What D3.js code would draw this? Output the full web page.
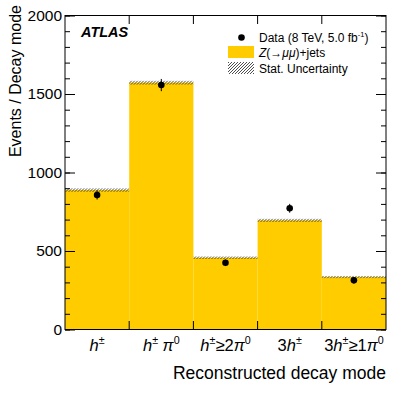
<!DOCTYPE html>
<html>
<head>
<meta charset="utf-8">
<style>
  body { margin: 0; background: white; }
  text { font-family: "Liberation Sans", Arial, sans-serif; }
</style>
</head>
<body>
<div id="chart"></div>
<script src="https://d3js.org/d3.v7.min.js"></script>
<script>
// decay modes (tick labels as [text, style] pieces: i = italic, s = superscript)
var modes = ["h", "hpi0", "h2pi0", "3h", "3hpi0"];
var modeLabels = [
  [["h","i"],["±","s"]],
  [["h","i"],["±","s"],[" "],["π","i"],["0","s"]],
  [["h","i"],["±","s"],["≥2"],["π","i"],["0","s"]],
  [["3"],["h","i"],["±","s"]],
  [["3"],["h","i"],["±","s"],["≥1"],["π","i"],["0","s"]]
];
var mcValues   = [888, 1572, 457, 695, 334];
var mcStatErr  = [11, 12, 8, 10, 7];
var dataValues = [857, 1557, 425, 772, 313];
var dataErr    = [29, 39, 21, 28, 18];
var yTicks = [0, 500, 1000, 1500, 2000];

var W = 407, H = 393;
var margin = {top: 15.5, right: 21, bottom: 63.5, left: 65},
    width = W - margin.left - margin.right,
    height = H - margin.top - margin.bottom;

var svg = d3.select("#chart").append("svg")
    .attr("width", W)
    .attr("height", H);

var defs = svg.append("defs");
defs.append("pattern")
    .attr("id", "hatch")
    .attr("patternUnits", "userSpaceOnUse")
    .attr("width", 3).attr("height", 3)
  .append("path")
    .attr("d", "M-1,1 l2,-2 M0,3 l3,-3 M2,4 l2,-2")
    .attr("stroke", "#222")
    .attr("stroke-width", 0.8);

var g = svg.append("g")
    .attr("transform", "translate(" + margin.left + "," + margin.top + ")");

var x = d3.scaleBand().domain(modes).range([0, width]).padding(0);
var y = d3.scaleLinear().domain([0, 2000]).range([height, 0]);

// MC bars
g.selectAll(".bar")
  .data(modes)
  .enter().append("rect")
    .attr("x", function(d) { return x(d); })
    .attr("width", x.bandwidth())
    .attr("y", function(d, i) { return y(mcValues[i]); })
    .attr("height", function(d, i) { return height - y(mcValues[i]); })
    .attr("fill", "#ffcc00");

// stat uncertainty band
g.selectAll(".band")
  .data(modes)
  .enter().append("rect")
    .attr("x", function(d) { return x(d); })
    .attr("width", x.bandwidth())
    .attr("y", function(d, i) { return y(mcValues[i] + mcStatErr[i]); })
    .attr("height", function(d, i) { return y(mcValues[i] - mcStatErr[i]) - y(mcValues[i] + mcStatErr[i]); })
    .attr("fill", "url(#hatch)");

// data points
var pts = g.selectAll(".pt")
  .data(modes)
  .enter().append("g");
pts.append("line")
    .attr("x1", function(d) { return x(d) + x.bandwidth() / 2; })
    .attr("x2", function(d) { return x(d) + x.bandwidth() / 2; })
    .attr("y1", function(d, i) { return y(dataValues[i] + dataErr[i]); })
    .attr("y2", function(d, i) { return y(dataValues[i] - dataErr[i]); })
    .attr("stroke", "black")
    .attr("stroke-width", 1);
pts.append("circle")
    .attr("cx", function(d) { return x(d) + x.bandwidth() / 2; })
    .attr("cy", function(d, i) { return y(dataValues[i]); })
    .attr("r", 3.3)
    .attr("fill", "black");

// axes (ticks inward, ROOT style)
var yMinor = d3.range(0, 2001, 100);
g.append("g").call(d3.axisLeft(y).tickValues(yMinor).tickSize(-5).tickFormat(""))
  .call(function(a) { a.select(".domain").remove(); });
g.append("g").call(d3.axisLeft(y).tickValues(yTicks).tickSize(-10).tickPadding(3).tickFormat(d3.format("d")))
  .call(function(a) { a.select(".domain").remove(); })
  .selectAll("text").attr("font-size", 15.5).attr("fill", "black");
g.append("g").attr("transform", "translate(" + width + ",0)")
  .call(d3.axisRight(y).tickValues(yMinor).tickSize(-5).tickFormat(""))
  .call(function(a) { a.select(".domain").remove(); });
g.append("g").attr("transform", "translate(" + width + ",0)")
  .call(d3.axisRight(y).tickValues(yTicks).tickSize(-10).tickFormat(""))
  .call(function(a) { a.select(".domain").remove(); });

var bounds = modes.slice(1).map(function(d) { return x(d); });
g.selectAll(".btick").data(bounds).enter().append("line")
    .attr("x1", function(d) { return d; }).attr("x2", function(d) { return d; })
    .attr("y1", height).attr("y2", height - 8.5)
    .attr("stroke", "black");
g.selectAll(".ttick").data(bounds).enter().append("line")
    .attr("x1", function(d) { return d; }).attr("x2", function(d) { return d; })
    .attr("y1", 0).attr("y2", 8.5)
    .attr("stroke", "black");

g.append("rect")
    .attr("width", width).attr("height", height)
    .attr("fill", "none").attr("stroke", "black").attr("stroke-width", 1);

// x tick labels
function addPieces(t, pieces, size) {
  pieces.forEach(function(p, j) {
    var ts = t.append("tspan").text(p[0]);
    if (p[1] === "i") ts.attr("font-style", "italic");
    if (p[1] === "s") {
      ts.attr("font-size", size * 0.65).attr("dy", -size * 0.4);
    } else if (j > 0 && pieces[j - 1][1] === "s") {
      ts.attr("dy", size * 0.4);
    }
  });
}
modes.forEach(function(d, i) {
  var t = g.append("text")
      .attr("x", x(d) + x.bandwidth() / 2)
      .attr("y", height + 21)
      .attr("text-anchor", "middle")
      .attr("font-size", 16.5);
  addPieces(t, modeLabels[i], 16.5);
});

// axis titles
svg.append("text")
    .attr("x", margin.left + width)
    .attr("y", 378.5)
    .attr("text-anchor", "end")
    .attr("font-size", 17.5)
    .text("Reconstructed decay mode");
svg.append("text")
    .attr("transform", "translate(21,5) rotate(-90)")
    .attr("text-anchor", "end")
    .attr("font-size", 16)
    .text("Events / Decay mode");

// ATLAS label
svg.append("text")
    .attr("x", 81)
    .attr("y", 36.5)
    .attr("font-size", 14.5)
    .attr("font-weight", "bold")
    .attr("font-style", "italic")
    .text("ATLAS");

// legend
var lg = svg.append("g");
lg.append("circle").attr("cx", 241.5).attr("cy", 37.5).attr("r", 3.3).attr("fill", "black");
var t1 = lg.append("text").attr("x", 259).attr("y", 41.5).attr("font-size", 12);
t1.append("tspan").text("Data (8 TeV, 5.0 fb");
t1.append("tspan").text("-1").attr("font-size", 7.5).attr("dy", -5);
t1.append("tspan").text(")").attr("dy", 5);
lg.append("rect").attr("x", 228).attr("y", 46).attr("width", 26).attr("height", 12).attr("fill", "#ffcc00");
var t2 = lg.append("text").attr("x", 259).attr("y", 57).attr("font-size", 12);
t2.append("tspan").text("Z").attr("font-style", "italic");
t2.append("tspan").text("(→");
t2.append("tspan").text("μμ").attr("font-style", "italic");
t2.append("tspan").text(")+jets");
lg.append("rect").attr("x", 228).attr("y", 62).attr("width", 26).attr("height", 12).attr("fill", "url(#hatch)");
lg.append("text").attr("x", 259).attr("y", 73).attr("font-size", 12).text("Stat. Uncertainty");
</script>
</body>
</html>
